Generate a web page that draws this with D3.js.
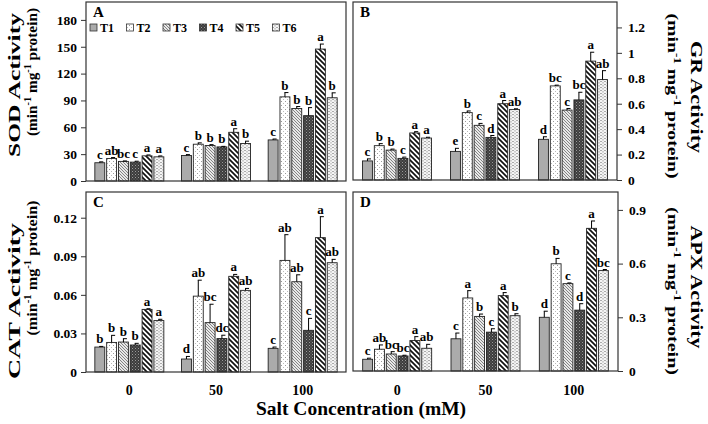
<!DOCTYPE html>
<html><head><meta charset="utf-8">
<script src="https://cdn.jsdelivr.net/npm/d3@7"></script>
<style>
html,body{margin:0;padding:0;background:#fff;}
svg{display:block;font-family:"Liberation Serif","Times New Roman",serif;font-weight:bold;}
</style></head>
<body><svg id="c" width="708" height="424"></svg>
<script>
// ---------- data ----------
const salt = ["0", "50", "100"];
const treatments = ["T1", "T2", "T3", "T4", "T5", "T6"];

const sodMean = [[20.4, 25.2, 21.9, 21.1, 28.1, 27.0],
                 [28.5, 41.1, 39.6, 38.1, 54.4, 41.9],
                 [45.9, 94.0, 81.0, 73.0, 147.4, 93.0]];
const sodErr  = [[1.0, 1.0, 0.5, 1.0, 1.0, 1.0],
                 [1.0, 1.5, 1.0, 0.6, 4.0, 2.6],
                 [1.0, 4.8, 2.2, 9.0, 5.6, 5.5]];
const sodLetters = [["c","ab","bc","c","a","a"],
                    ["c","b","b","b","a","b"],
                    ["c","b","b","b","a","b"]];
const sodTicks = [0, 30, 60, 90, 120, 150, 180];

const grMean = [[0.15, 0.27, 0.235, 0.17, 0.37, 0.33],
                [0.225, 0.53, 0.43, 0.335, 0.60, 0.555],
                [0.32, 0.74, 0.55, 0.63, 0.935, 0.79]];
const grErr  = [[0.016, 0.016, 0.008, 0.01, 0.01, 0.006],
                [0.024, 0.013, 0.015, 0.015, 0.025, 0.005],
                [0.02, 0.006, 0.012, 0.06, 0.07, 0.07]];
const grLetters = [["c","b","b","c","a","a"],
                   ["e","b","c","d","a","ab"],
                   ["d","bc","c","bc","a","ab"]];
const grTicks = [0, 0.2, 0.4, 0.6, 0.8, 1, 1.2];

const catMean = [[0.0194, 0.023, 0.0233, 0.021, 0.0487, 0.040],
                 [0.0101, 0.059, 0.0384, 0.026, 0.0744, 0.0635],
                 [0.0184, 0.0868, 0.0702, 0.0324, 0.1045, 0.085]];
const catErr  = [[0.0005, 0.0055, 0.0026, 0.0013, 0.0005, 0.001],
                 [0.002, 0.0124, 0.0143, 0.0026, 0.0015, 0.0015],
                 [0.001, 0.020, 0.0054, 0.0093, 0.0163, 0.0026]];
const catLetters = [["b","b","b","b","a","a"],
                    ["d","ab","bc","dc","a","ab"],
                    ["c","ab","ab","c","a","ab"]];
const catTicks = [0, 0.03, 0.06, 0.09, 0.12];

const apxMean = [[0.0655, 0.1216, 0.095, 0.084, 0.170, 0.127],
                 [0.18, 0.408, 0.305, 0.217, 0.421, 0.309],
                 [0.30, 0.599, 0.488, 0.34, 0.797, 0.561]];
const apxErr  = [[0.006, 0.024, 0.013, 0.004, 0.022, 0.022],
                 [0.032, 0.041, 0.013, 0.019, 0.017, 0.011],
                 [0.034, 0.03, 0.004, 0.036, 0.041, 0.006]];
const apxLetters = [["c","ab","bc","bc","a","ab"],
                    ["c","a","b","c","a","b"],
                    ["d","b","c","d","a","bc"]];
const apxTicks = [0, 0.3, 0.6, 0.9];

// ---------- drawing ----------
const svg = d3.select("#c");
const defs = svg.append("defs");

function pat(id, w, h, draw) {
  const p = defs.append("pattern").attr("id", id).attr("patternUnits", "userSpaceOnUse")
    .attr("width", w).attr("height", h);
  draw(p);
}
pat("p2", 4, 4, p => {
  p.append("rect").attr("width", 4).attr("height", 4).attr("fill", "#fff");
  p.append("rect").attr("x", 1).attr("y", 1).attr("width", 1).attr("height", 1).attr("fill", "#999");
  p.append("rect").attr("x", 3).attr("y", 3).attr("width", 1).attr("height", 1).attr("fill", "#bbb");
});
pat("p3", 3, 3, p => {
  p.append("rect").attr("width", 3).attr("height", 3).attr("fill", "#e8e8e8");
  p.append("path").attr("d", "M-1,-1 L4,4 M-1,2 L1,4 M2,-1 L4,1").attr("stroke", "#777").attr("stroke-width", 0.9);
});
pat("p4", 3, 3, p => {
  p.append("rect").attr("width", 3).attr("height", 3).attr("fill", "#3c3c3c");
  p.append("rect").attr("x", 0).attr("y", 0).attr("width", 1).attr("height", 1).attr("fill", "#9a9a9a");
  p.append("rect").attr("x", 1.5).attr("y", 1.5).attr("width", 1).attr("height", 1).attr("fill", "#777");
});
pat("p5", 5, 5, p => {
  p.append("rect").attr("width", 5).attr("height", 5).attr("fill", "#fff");
  p.append("path").attr("d", "M-2,-2 L7,7 M-2,3 L2,7 M3,-2 L7,2").attr("stroke", "#111").attr("stroke-width", 1.7);
});
pat("p6", 4, 3, p => {
  p.append("rect").attr("width", 4).attr("height", 3).attr("fill", "#f4f4f4");
  p.append("rect").attr("x", 0).attr("y", 0).attr("width", 2).attr("height", 0.8).attr("fill", "#999");
  p.append("rect").attr("x", 2).attr("y", 1.5).attr("width", 2).attr("height", 0.8).attr("fill", "#aaa");
});
const fills = ["#ababab", "url(#p2)", "url(#p3)", "url(#p4)", "url(#p5)", "url(#p6)"];

const panels = [
  {letter: "A", x0: 86, x1: 346, y0: 2, y1: 181, max: 200, ticks: sodTicks, mean: sodMean, err: sodErr, lab: sodLetters, side: "left",
   t1: "SOD Activity", t1c: 85, t1len: 144, t2c: 72, t2len: 128, legend: true, xlab: false},
  {letter: "B", x0: 353, x1: 617, y0: 2, y1: 180, max: 1.4, ticks: grTicks, mean: grMean, err: grErr, lab: grLetters, side: "right",
   t1: "GR Activity", t1c: 97, t1len: 112, t2c: 96, t2len: 165, legend: false, xlab: false},
  {letter: "C", x0: 86, x1: 346, y0: 192, y1: 372, max: 0.14, ticks: catTicks, mean: catMean, err: catErr, lab: catLetters, side: "left",
   t1: "CAT Activity", t1c: 301, t1len: 156, t2c: 268, t2len: 135, legend: false, xlab: true},
  {letter: "D", x0: 353, x1: 618, y0: 192, y1: 371, max: 1.0, ticks: apxTicks, mean: apxMean, err: apxErr, lab: apxLetters, side: "right",
   t1: "APX Activity", t1c: 287, t1len: 123, t2c: 291, t2len: 168, legend: false, xlab: true}
];

function fmt(v) { return v === 0 ? "0" : String(+v.toFixed(3)); }

panels.forEach(P => {
  const g = svg.append("g");
  const x = d3.scaleBand().domain(salt).range([P.x0, P.x1]);
  const y = d3.scaleLinear().domain([0, P.max]).range([P.y1, P.y0]);

  // y axis
  const axis = (P.side === "left" ? d3.axisLeft(y) : d3.axisRight(y))
    .tickValues(P.ticks).tickFormat(fmt).tickSize(5).tickPadding(P.side === "left" ? 4 : 6);
  const ax = g.append("g").attr("transform", `translate(${P.side === "left" ? P.x0 : P.x1},0)`).call(axis);
  ax.attr("font-family", null);
  ax.select(".domain").remove();
  ax.selectAll("line").attr("stroke", "#333");
  ax.selectAll("text").attr("font-size", 13.5).attr("font-family", "Liberation Serif").attr("font-weight", "bold").attr("fill", "#000");

  // bars
  salt.forEach((s, gi) => {
    const inner = d3.scaleBand().domain(treatments)
      .range([x(s) + x.bandwidth() / 2 - 34.5, x(s) + x.bandwidth() / 2 + 34.5]).paddingInner(0.16);
    treatments.forEach((t, ti) => {
      const v = P.mean[gi][ti], e = P.err[gi][ti];
      const bx = inner(t), bw = inner.bandwidth();
      g.append("rect").attr("x", bx).attr("y", y(v)).attr("width", bw).attr("height", y(0) - y(v))
        .attr("fill", fills[ti]).attr("stroke", "#222").attr("stroke-width", 0.9);
      const cx = bx + bw / 2;
      g.append("line").attr("x1", cx).attr("x2", cx).attr("y1", y(v)).attr("y2", y(v + e)).attr("stroke", "#000").attr("stroke-width", 1);
      g.append("line").attr("x1", cx - 0.5).attr("x2", cx + 3.5).attr("y1", y(v + e)).attr("y2", y(v + e)).attr("stroke", "#000").attr("stroke-width", 1);
      g.append("text").attr("x", cx).attr("y", y(v + e) - 3).attr("text-anchor", "middle")
        .attr("font-size", 13).text(P.lab[gi][ti]);
    });
    if (P.xlab) {
      g.append("text").attr("x", x(s) + x.bandwidth() / 2).attr("y", 395).attr("text-anchor", "middle")
        .attr("font-size", 14).text(s);
    }
  });

  // frame
  g.append("rect").attr("x", P.x0).attr("y", P.y0).attr("width", P.x1 - P.x0).attr("height", P.y1 - P.y0)
    .attr("fill", "none").attr("stroke", "#333").attr("stroke-width", 1.2);

  // panel letter
  g.append("text").attr("x", P.x0 + 7).attr("y", P.y0 + 15).attr("font-size", 15).text(P.letter);

  // legend
  if (P.legend) {
    treatments.forEach((t, ti) => {
      const lx = P.x0 + 4 + ti * 36.5;
      g.append("rect").attr("x", lx).attr("y", 24).attr("width", 7).attr("height", 7)
        .attr("fill", fills[ti]).attr("stroke", "#333").attr("stroke-width", 0.8);
      g.append("text").attr("x", lx + 10).attr("y", 32).attr("font-size", 12).text(t);
    });
  }

  // axis titles
  const left = P.side === "left";
  const rot = left ? -90 : 90;
  const b1 = left ? 20 : 691;
  const b2 = left ? 37 : 668;
  g.append("text").attr("transform", `translate(${b1},${P.t1c}) rotate(${rot})`).attr("text-anchor", "middle")
    .attr("font-size", 17.5).attr("textLength", P.t1len).attr("lengthAdjust", "spacingAndGlyphs").text(P.t1);
  const t2 = g.append("text").attr("transform", `translate(${b2},${P.t2c}) rotate(${rot})`).attr("text-anchor", "middle")
    .attr("font-size", 15).attr("textLength", P.t2len).attr("lengthAdjust", "spacingAndGlyphs");
  t2.append("tspan").text("(min");
  t2.append("tspan").attr("font-size", 10).attr("dy", -6).text("-1");
  t2.append("tspan").attr("dy", 6).text(" mg");
  t2.append("tspan").attr("font-size", 10).attr("dy", -6).text("-1");
  t2.append("tspan").attr("dy", 6).text(" protein)");
});

svg.append("text").attr("x", 361).attr("y", 415).attr("text-anchor", "middle").attr("font-size", 19.5)
  .text("Salt Concentration (mM)");
</script></body></html>
